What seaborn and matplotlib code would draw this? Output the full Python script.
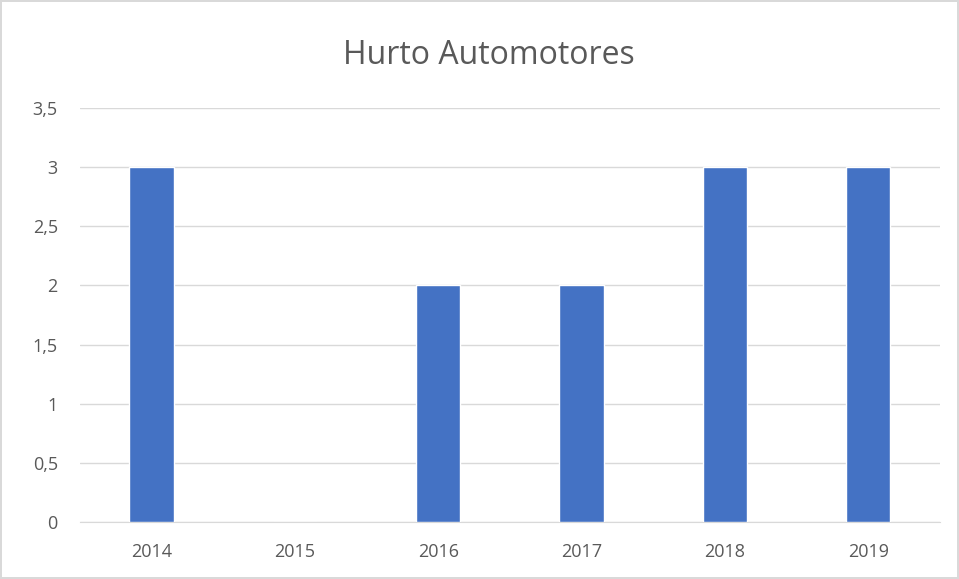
import pandas as pd
import seaborn as sns
import matplotlib.pyplot as plt

plt.switch_backend("Agg")

years = ["2014", "2015", "2016", "2017", "2018", "2019"]
counts = [3, 0, 2, 2, 3, 3]

df = pd.DataFrame({"year": years, "count": counts})

sns.set_style("white")
plt.rcParams["font.family"] = ["Open Sans", "DejaVu Sans"]

fig = plt.figure(figsize=(9.59, 5.79), dpi=100)
fig.patch.set_edgecolor("#d9d9d9")
fig.patch.set_linewidth(1.5)
ax = fig.add_axes([0.0834, 0.0984, 0.8966, 0.7151])

sns.barplot(data=df, x="year", y="count", color="#4472C4", width=0.31,
            saturation=1, ax=ax, zorder=3)

ax.set_ylim(0, 3.5)
ax.set_yticks([0, 0.5, 1, 1.5, 2, 2.5, 3, 3.5])
ax.set_yticklabels(["0", "0,5", "1", "1,5", "2", "2,5", "3", "3,5"])
ax.yaxis.grid(True, color="#d9d9d9", linewidth=1, zorder=0)
ax.set_axisbelow(True)
for s in ["top", "right", "left"]:
    ax.spines[s].set_visible(False)
ax.spines["bottom"].set_color("#d9d9d9")
ax.tick_params(axis="both", length=0, labelsize=13, colors="#595959")
ax.tick_params(axis="y", pad=16)
ax.tick_params(axis="x", pad=15)
ax.set_xlabel("")
ax.set_ylabel("")

fig.text(0.51, 0.905, "Hurto Automotores", ha="center", va="center",
         fontsize=23, color="#595959")

fig.savefig("out.png", dpi=100, edgecolor=fig.get_edgecolor())
